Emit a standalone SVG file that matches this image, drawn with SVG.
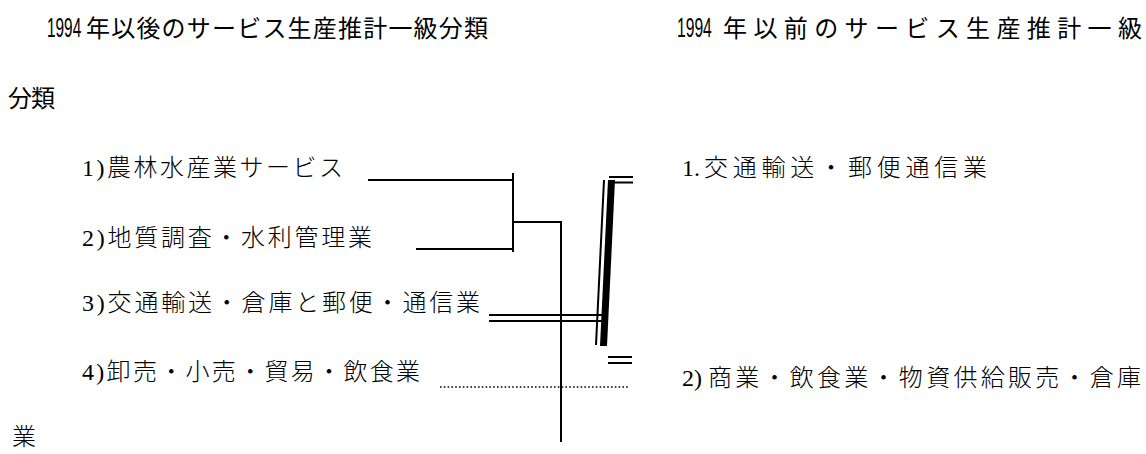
<svg xmlns="http://www.w3.org/2000/svg" width="1146" height="454" viewBox="0 0 1146 454">
  <style>
    .h { font-family: "Liberation Sans", "Noto Sans CJK JP", sans-serif; font-size: 24px; fill: #000; }
    .d { font-family: "Liberation Sans", sans-serif; font-size: 27px; fill: #000; }
    .t { font-family: "Liberation Serif", "Noto Sans CJK JP", serif; font-size: 24px; fill: #000; font-weight: 300; }
    .ln { stroke: #000; stroke-width: 2; fill: none; }
    .dot { stroke: #000; stroke-width: 1.6; stroke-dasharray: 1.6 2.2; fill: none; }
  </style>
  <rect width="1146" height="454" fill="#fff"/>
  <g id="title-after">
    <text class="d" transform="translate(47,37) scale(0.57,1)">1994</text>
    <text class="h" x="86" y="37" textLength="402" lengthAdjust="spacing">年以後のサービス生産推計一級分類</text>
  </g>
  <g id="title-before">
    <text class="d" transform="translate(677,37) scale(0.58,1)">1994</text>
    <text class="h" x="723" y="37" textLength="419" lengthAdjust="spacing">年以前のサービス生産推計一級</text>
    <text class="h" x="8" y="107" textLength="47" lengthAdjust="spacing">分類</text>
  </g>
  <g id="item1"><text class="t" x="82" y="176" textLength="261" lengthAdjust="spacing">1)農林水産業サービス</text></g>
  <g id="item2"><text class="t" x="82" y="246" textLength="290" lengthAdjust="spacing">2)地質調査・水利管理業</text></g>
  <g id="item3"><text class="t" x="82" y="311" textLength="398" lengthAdjust="spacing">3)交通輸送・倉庫と郵便・通信業</text></g>
  <g id="item4"><text class="t" x="82" y="380" textLength="338" lengthAdjust="spacing">4)卸売・小売・貿易・飲食業</text></g>
  <g id="old1">
    <text class="t" x="682" y="176">1.</text>
    <text class="t" x="704" y="176" textLength="283" lengthAdjust="spacing">交通輸送・郵便通信業</text>
  </g>
  <g id="old2">
    <text class="t" x="682" y="386">2)</text>
    <text class="t" x="708" y="386" textLength="433" lengthAdjust="spacing">商業・飲食業・物資供給販売・倉庫</text>
    <text class="t" x="12" y="445">業</text>
  </g>
  <g id="connectors">
    <line class="ln" x1="368" y1="180" x2="513" y2="180"/>
    <line class="ln" x1="416" y1="249" x2="513" y2="249"/>
    <line class="ln" x1="513" y1="173" x2="513" y2="252"/>
    <polyline class="ln" points="513,222 561,222 561,442"/>
    <line class="ln" x1="489" y1="315" x2="608" y2="315"/>
    <line class="ln" x1="489" y1="321" x2="608" y2="321"/>
    <line class="dot" x1="440" y1="387" x2="629" y2="387"/>
    <line class="ln" x1="604" y1="180" x2="596" y2="345"/>
    <polygon points="608,180 615,180 607,346 600,346" fill="#000"/>
    <line class="ln" x1="609" y1="177" x2="633" y2="177"/>
    <line class="ln" x1="609" y1="182.5" x2="633" y2="182.5"/>
    <line class="ln" x1="608" y1="357" x2="632" y2="357"/>
    <line class="ln" x1="608" y1="363" x2="632" y2="363"/>
  </g>
</svg>
